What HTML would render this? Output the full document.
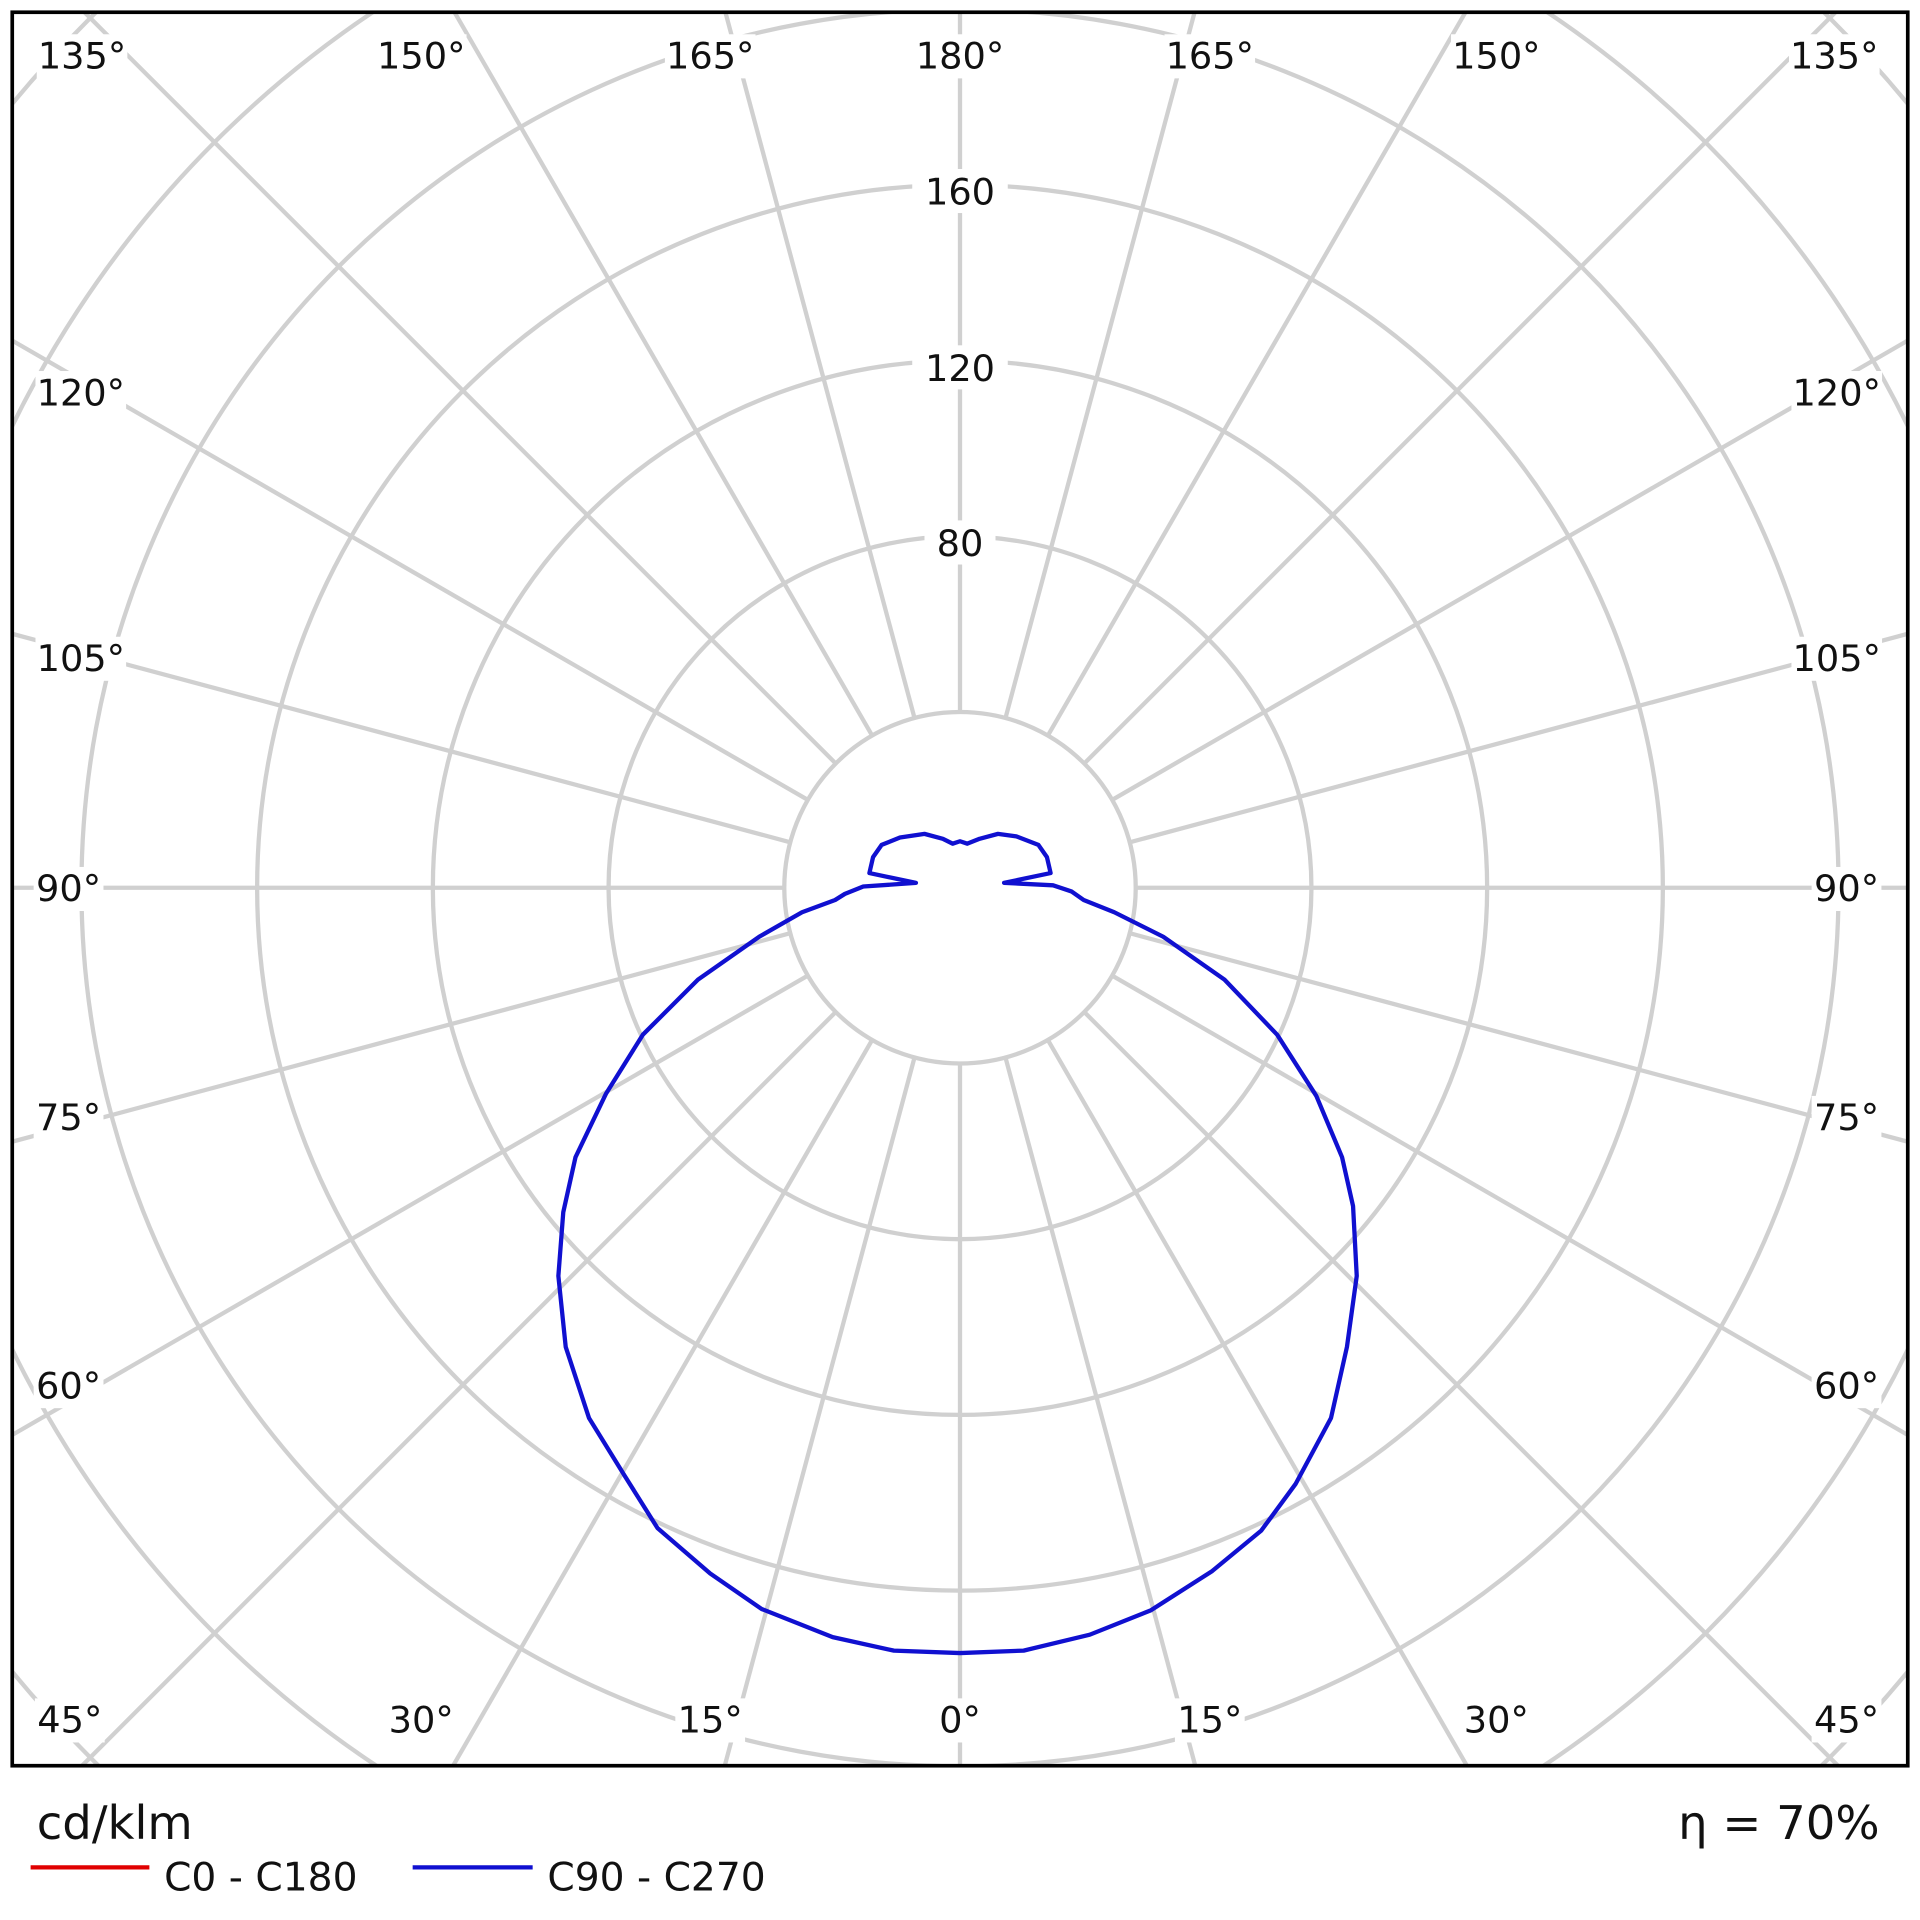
<!DOCTYPE html>
<html><head><meta charset="utf-8"><style>
html,body{margin:0;padding:0;background:#fff;width:1920px;height:1920px;overflow:hidden;}
svg{display:block;}
text{font-family:"DejaVu Sans","Liberation Sans",sans-serif;fill:#111;}
</style></head><body>
<svg width="1920" height="1920" viewBox="0 0 1568 1568" xmlns="http://www.w3.org/2000/svg">
<defs><clipPath id="c"><rect x="10" y="10" width="1548" height="1432"/></clipPath></defs>
<rect x="0" y="0" width="1568" height="1568" fill="#fff"/>
<g clip-path="url(#c)" stroke="#d0d0d0" stroke-width="3.5" fill="none">
<circle cx="784" cy="725" r="143.5"/>
<circle cx="784" cy="725" r="287"/>
<circle cx="784" cy="725" r="430.5"/>
<circle cx="784" cy="725" r="574"/>
<circle cx="784" cy="725" r="717.5"/>
<circle cx="784" cy="725" r="861"/>
<circle cx="784" cy="725" r="1004.5"/>
<g id="spokes"></g>
</g>
<g font-size="30" text-anchor="middle">
<g fill="#fff">
<rect x="745" y="138" width="78" height="36"/>
<rect x="745" y="282" width="78" height="36"/>
<rect x="755" y="425" width="58" height="36"/>
</g>
<text x="784" y="167">160</text>
<text x="784" y="311">120</text>
<text x="784" y="454">80</text>
</g>
<g id="angl" font-size="30" text-anchor="middle"></g>
<path fill="none" stroke="#1010d0" stroke-width="3.5" stroke-linejoin="round" d="M784,1350 L836,1348 L890,1335 L940,1315 L990,1283 L1030,1250 L1058,1212 L1087,1158 L1100,1100 L1108,1042 L1105,985 L1096,945 L1075,895 L1043,845 L1000,800 L950,765 L910,745 L885,735 L875,728 L860,723 L820,721 L858,713 L855,700 L848,690 L830,683 L815,681 L800,685 L790,689 L784,687 L778,689 L770,685 L755,681 L735,684 L720,690 L713,700 L710,713 L748,721 L705,724 L690,730 L682,735 L655,745 L620,765 L570,800 L525,845 L495,893 L470,945 L460,990 L456,1042 L462,1100 L481,1158 L510,1205 L537,1248 L580,1285 L622,1314 L680,1337 L730,1348 Z"/>
<rect x="10" y="10" width="1548" height="1432" fill="none" stroke="#000" stroke-width="3"/>
<text x="30" y="1502" font-size="38">cd/klm</text>
<text x="1535" y="1502" font-size="38" text-anchor="end">η = 70%</text>
<line x1="25" y1="1525" x2="122" y2="1525" stroke="#e00000" stroke-width="3.5"/>
<text x="134" y="1544" font-size="32">C0 - C180</text>
<line x1="337" y1="1525" x2="435" y2="1525" stroke="#1010d0" stroke-width="3.5"/>
<text x="447" y="1544" font-size="32">C90 - C270</text>
<script>
var g=document.getElementById('spokes'),ns='http://www.w3.org/2000/svg';
for(var a=0;a<360;a+=15){var t=a*Math.PI/180,l=document.createElementNS(ns,'line');
l.setAttribute('x1',784+143.5*Math.sin(t));l.setAttribute('y1',725+143.5*Math.cos(t));
l.setAttribute('x2',784+1200*Math.sin(t));l.setAttribute('y2',725+1200*Math.cos(t));g.appendChild(l);}
var L=[[67,56,'135°'],[344,56,'150°'],[580,56,'165°'],[784,56,'180°'],[988,56,'165°'],[1222,56,'150°'],[1498,56,'135°'],
[66,331,'120°'],[66,548,'105°'],[56,736,'90°'],[56,923,'75°'],[56,1142,'60°'],[57,1415,'45°'],
[1500,331,'120°'],[1500,548,'105°'],[1508,736,'90°'],[1508,923,'75°'],[1508,1142,'60°'],[1508,1415,'45°'],
[344,1415,'30°'],[580,1415,'15°'],[784,1415,'0°'],[988,1415,'15°'],[1222,1415,'30°']];
var ag=document.getElementById('angl');
L.forEach(function(p){var r=document.createElementNS(ns,'rect');var w=p[2].length*17+6;
r.setAttribute('x',p[0]-w/2);r.setAttribute('y',p[1]-28);r.setAttribute('width',w);r.setAttribute('height',36);r.setAttribute('fill','#fff');ag.appendChild(r);
var tx=document.createElementNS(ns,'text');tx.setAttribute('x',p[0]);tx.setAttribute('y',p[1]);tx.textContent=p[2];ag.appendChild(tx);});
</script>
</svg>
</body></html>
